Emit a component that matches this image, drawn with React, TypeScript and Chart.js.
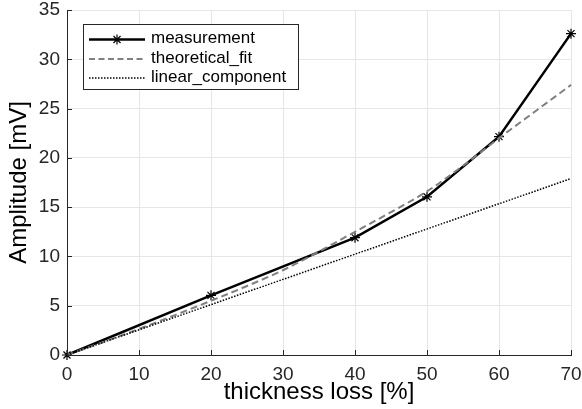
import React, { useEffect, useRef } from "react";
import { Chart, registerables } from "chart.js";

Chart.register(...registerables);

const measX = [0, 20, 40, 50, 60, 70];
const measY = [0, 6.05, 11.9, 16.05, 22.15, 32.6];

const fitX = [0, 5, 10, 15, 20, 25, 30, 35, 40, 45, 50, 55, 60, 65, 70];
const fitY = [0, 1.3, 2.65, 4.05, 5.5, 7.0, 8.6, 10.5, 12.5, 14.5, 16.6, 19.2, 22.0, 24.7, 27.4];

const linX = [0, 70];
const linY = [0, 17.9];

const legendLabels = ["measurement", "theoretical_fit", "linear_component"];
const xTitle = "thickness loss [%]";
const yTitle = "Amplitude [mV]";

const FONT = "'Liberation Sans', Arial, Helvetica, sans-serif";
const TEXT = "#262626";

function drawAsterisk(ctx: CanvasRenderingContext2D, x: number, y: number, r: number) {
  ctx.beginPath();
  ctx.moveTo(x - r, y);
  ctx.lineTo(x + r, y);
  ctx.moveTo(x, y - r);
  ctx.lineTo(x, y + r);
  const d = r * 0.707;
  ctx.moveTo(x - d, y - d);
  ctx.lineTo(x + d, y + d);
  ctx.moveTo(x - d, y + d);
  ctx.lineTo(x + d, y - d);
  ctx.stroke();
}

const extrasPlugin = {
  id: "extras",
  afterDatasetsDraw(chart: any) {
    const ctx = chart.ctx as CanvasRenderingContext2D;
    const { left, bottom } = chart.chartArea;
    const xs = chart.scales.x;
    const ys = chart.scales.y;
    ctx.save();
    // inward ticks
    ctx.strokeStyle = TEXT;
    ctx.lineWidth = 1;
    ctx.beginPath();
    xs.ticks.forEach((t: any) => {
      const px = Math.round(xs.getPixelForValue(t.value)) + 0.5;
      ctx.moveTo(px, bottom);
      ctx.lineTo(px, bottom - 5);
    });
    ys.ticks.forEach((t: any) => {
      const py = Math.round(ys.getPixelForValue(t.value)) + 0.5;
      ctx.moveTo(left, py);
      ctx.lineTo(left + 5, py);
    });
    ctx.stroke();

    // legend box
    const bx = 83.5, by = 24.5, bw = 215, bh = 65;
    ctx.fillStyle = "#ffffff";
    ctx.fillRect(bx, by, bw, bh);
    ctx.strokeStyle = TEXT;
    ctx.lineWidth = 1;
    ctx.strokeRect(bx, by, bw, bh);
    const rows = [39.5, 59, 78];
    const x1 = 89, x2 = 145;
    // measurement
    ctx.strokeStyle = "#000000";
    ctx.lineWidth = 2.5;
    ctx.setLineDash([]);
    ctx.beginPath();
    ctx.moveTo(x1, rows[0]);
    ctx.lineTo(x2, rows[0]);
    ctx.stroke();
    ctx.lineWidth = 1.2;
    drawAsterisk(ctx, (x1 + x2) / 2, rows[0], 5);
    // fit
    ctx.strokeStyle = "#808080";
    ctx.lineWidth = 2;
    ctx.setLineDash([6, 3.5]);
    ctx.beginPath();
    ctx.moveTo(x1, rows[1]);
    ctx.lineTo(x2, rows[1]);
    ctx.stroke();
    // linear
    ctx.strokeStyle = "#000000";
    ctx.lineWidth = 1.5;
    ctx.setLineDash([1.5, 1.5]);
    ctx.beginPath();
    ctx.moveTo(x1, rows[2]);
    ctx.lineTo(x2, rows[2]);
    ctx.stroke();
    ctx.setLineDash([]);
    ctx.fillStyle = "#000000";
    ctx.font = `17px ${FONT}`;
    ctx.textBaseline = "middle";
    ctx.textAlign = "left";
    legendLabels.forEach((l, i) => ctx.fillText(l, 151, rows[i] - 1));
    ctx.restore();
  },
};

export default function App() {
  const ref = useRef<HTMLCanvasElement>(null);
  useEffect(() => {
    document.body.style.margin = "0";
    const canvas = ref.current!;
    const chart = new Chart(canvas, {
      type: "line",
      data: {
        datasets: [
          {
            label: legendLabels[0],
            data: measX.map((x, i) => ({ x, y: measY[i] })),
            borderColor: "#000000",
            backgroundColor: "#000000",
            borderWidth: 2.5,
            pointStyle: "star",
            pointRadius: 5,
            pointBorderWidth: 1.2,
            pointBorderColor: "#000000",
            tension: 0,
            clip: false,
            order: 3,
          } as any,
          {
            label: legendLabels[1],
            data: fitX.map((x, i) => ({ x, y: fitY[i] })),
            borderColor: "#808080",
            borderWidth: 2,
            borderDash: [7, 4],
            pointRadius: 0,
            cubicInterpolationMode: "monotone",
            clip: false,
            order: 2,
          } as any,
          {
            label: legendLabels[2],
            data: linX.map((x, i) => ({ x, y: linY[i] })),
            borderColor: "#000000",
            borderWidth: 1.5,
            borderDash: [1.5, 1.5],
            pointRadius: 0,
            clip: false,
            order: 1,
          } as any,
        ],
      },
      options: {
        responsive: false,
        animation: false,
        devicePixelRatio: 1,
        layout: { padding: { left: 0, right: 11, top: 10, bottom: 0 } },
        plugins: { legend: { display: false }, tooltip: { enabled: false } },
        scales: {
          x: {
            type: "linear",
            min: 0,
            max: 70,
            afterFit: (s: any) => {
              s.height = 54;
              s.paddingLeft = 0;
              s.paddingRight = 0;
            },
            ticks: { stepSize: 10, color: TEXT, font: { family: FONT, size: 19 }, padding: 8, maxRotation: 0 },
            grid: { color: "#e6e6e6", drawTicks: false, lineWidth: 1 },
            border: { display: true, color: TEXT, width: 1 },
            title: {
              display: true,
              text: xTitle,
              color: "#000000",
              font: { family: FONT, size: 24 },
              padding: { top: 0, bottom: 2 },
            },
          },
          y: {
            type: "linear",
            min: 0,
            max: 35,
            afterFit: (s: any) => {
              s.width = 67;
              s.paddingTop = 0;
              s.paddingBottom = 0;
            },
            ticks: { stepSize: 5, color: TEXT, font: { family: FONT, size: 19 }, padding: 7 },
            grid: { color: "#e6e6e6", drawTicks: false, lineWidth: 1 },
            border: { display: true, color: TEXT, width: 1 },
            title: {
              display: true,
              text: yTitle,
              color: "#000000",
              font: { family: FONT, size: 24 },
              padding: { top: 5, bottom: 0 },
            },
          },
        },
      },
      plugins: [extrasPlugin],
    });
    return () => chart.destroy();
  }, []);
  return (
    <div style={{ position: "fixed", left: 0, top: 0, width: 582, height: 409, background: "#fff" }}>
      <canvas ref={ref} width={582} height={409} />
    </div>
  );
}
